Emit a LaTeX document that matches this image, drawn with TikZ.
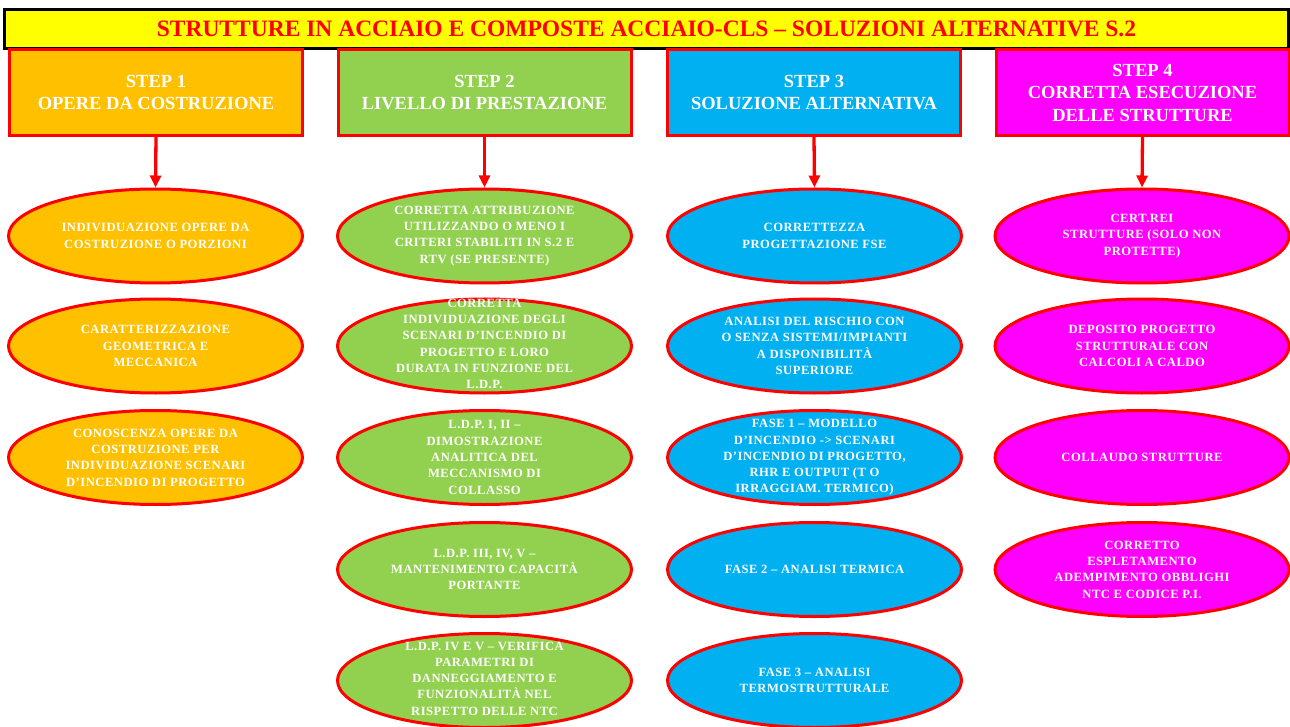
\documentclass[tikz,border=0pt]{standalone}
\usepackage{fontspec}
\setmainfont{Liberation Serif}
\newfontfamily\ellfont[LetterSpace=4]{Liberation Serif}
\usetikzlibrary{shapes.geometric,arrows.meta}
\definecolor{cOrange}{HTML}{FFC000}
\definecolor{cGreen}{HTML}{92D050}
\definecolor{cBlue}{HTML}{00B0F0}
\definecolor{cMag}{HTML}{FF00FF}
\definecolor{cYellow}{HTML}{FFFF00}
\definecolor{cRed}{HTML}{FF0000}
\tikzset{
  titlebox/.style={draw=black,line width=3pt,fill=cYellow,minimum width=1284pt,minimum height=39pt,inner sep=0pt,
    text=cRed,font=\bfseries\fontsize{23.5}{26}\selectfont},
  stepbox/.style={draw=cRed,line width=3pt,minimum width=293pt,minimum height=86pt,inner sep=0pt,
    text=white,align=center,font=\bfseries\fontsize{18.5}{22.5}\selectfont},
  etext/.style={text=white,align=center,inner sep=0pt,font=\ellfont\bfseries\fontsize{12.6}{16.3}\selectfont},
  ell/.style={ellipse,draw=cRed,line width=3pt,minimum width=294pt,minimum height=94pt,inner sep=0pt},
  arr/.style={draw=cRed,line width=3.3pt,-{Triangle[width=11pt,length=12pt]}}
}
\begin{document}
\begin{tikzpicture}[x=1pt,y=-1pt]
\useasboundingbox (0,0) rectangle (1290,727);
\node[titlebox] (title) at (646.5,29) {STRUTTURE IN ACCIAIO E COMPOSTE ACCIAIO-CLS – SOLUZIONI ALTERNATIVE S.2};
\node[stepbox,fill=cOrange] (s1) at (156,92.5) {STEP 1\\OPERE DA COSTRUZIONE};
\node[stepbox,fill=cGreen] (s2) at (484.5,92.5) {STEP 2\\LIVELLO DI PRESTAZIONE};
\node[stepbox,fill=cBlue] (s3) at (814,92.5) {STEP 3\\SOLUZIONE ALTERNATIVA};
\node[stepbox,fill=cMag] (s4) at (1142.5,92.5) {STEP 4\\CORRETTA ESECUZIONE\\DELLE STRUTTURE};
% column 1
\node[ell,fill=cOrange] (a1) at (155.5,236) {};
\node[etext] (ta1) at (a1.center) {INDIVIDUAZIONE OPERE DA\\COSTRUZIONE O PORZIONI};
\node[ell,fill=cOrange] (a2) at (155.5,346) {};
\node[etext] (ta2) at (a2.center) {CARATTERIZZAZIONE\\GEOMETRICA E\\MECCANICA};
\node[ell,fill=cOrange] (a3) at (155.5,457.5) {};
\node[etext] (ta3) at (a3.center) {CONOSCENZA OPERE DA\\COSTRUZIONE PER\\INDIVIDUAZIONE SCENARI\\D’INCENDIO DI PROGETTO};
% column 2
\node[ell,fill=cGreen] (b1) at (484.5,236) {};
\node[etext] (tb1) at (b1.center) {CORRETTA ATTRIBUZIONE\\UTILIZZANDO O MENO I\\CRITERI STABILITI IN S.2 E\\RTV (SE PRESENTE)};
\node[ell,fill=cGreen] (b2) at (484.5,346) {};
\node[etext] (tb2) at ([yshift=2pt]b2.center) {CORRETTA\\INDIVIDUAZIONE DEGLI\\SCENARI D’INCENDIO DI\\PROGETTO E LORO\\DURATA IN FUNZIONE DEL\\L.D.P.};
\node[ell,fill=cGreen] (b3) at (484.5,457.5) {};
\node[etext] (tb3) at (b3.center) {L.D.P. I, II –\\DIMOSTRAZIONE\\ANALITICA DEL\\MECCANISMO DI\\COLLASSO};
\node[ell,fill=cGreen] (b4) at (484.5,569.5) {};
\node[etext] (tb4) at (b4.center) {L.D.P. III, IV, V –\\MANTENIMENTO CAPACITÀ\\PORTANTE};
\node[ell,fill=cGreen] (b5) at (484.5,680.5) {};
\node[etext] (tb5) at ([yshift=2pt]b5.center) {L.D.P. IV E V – VERIFICA\\PARAMETRI DI\\DANNEGGIAMENTO E\\FUNZIONALITÀ NEL\\RISPETTO DELLE NTC};
% column 3
\node[ell,fill=cBlue] (c1) at (814.5,236) {};
\node[etext] (tc1) at (c1.center) {CORRETTEZZA\\PROGETTAZIONE FSE};
\node[ell,fill=cBlue] (c2) at (814.5,346) {};
\node[etext] (tc2) at (c2.center) {ANALISI DEL RISCHIO CON\\O SENZA SISTEMI/IMPIANTI\\A DISPONIBILITÀ\\SUPERIORE};
\node[ell,fill=cBlue] (c3) at (814.5,457.5) {};
\node[etext] (tc3) at (c3.center) {FASE 1 – MODELLO\\D’INCENDIO -{}> SCENARI\\D’INCENDIO DI PROGETTO,\\RHR E OUTPUT (T O\\IRRAGGIAM. TERMICO)};
\node[ell,fill=cBlue] (c4) at (814.5,569.5) {};
\node[etext] (tc4) at (c4.center) {FASE 2 – ANALISI TERMICA};
\node[ell,fill=cBlue] (c5) at (814.5,680.5) {};
\node[etext] (tc5) at (c5.center) {FASE 3 – ANALISI\\TERMOSTRUTTURALE};
% column 4
\node[ell,fill=cMag] (d1) at (1142,236) {};
\node[etext] (td1) at (d1.center) {CERT.REI\\STRUTTURE (SOLO NON\\PROTETTE)};
\node[ell,fill=cMag] (d2) at (1142,346) {};
\node[etext] (td2) at (d2.center) {DEPOSITO PROGETTO\\STRUTTURALE CON\\CALCOLI A CALDO};
\node[ell,fill=cMag] (d3) at (1142,457.5) {};
\node[etext] (td3) at (d3.center) {COLLAUDO STRUTTURE};
\node[ell,fill=cMag] (d4) at (1142,569.5) {};
\node[etext] (td4) at (d4.center) {CORRETTO\\ESPLETAMENTO\\ADEMPIMENTO OBBLIGHI\\NTC E CODICE P.I.};
% arrows
\draw[arr] (s1.south) -- (a1.north);
\draw[arr] (s2.south) -- (b1.north);
\draw[arr] (s3.south) -- (c1.north);
\draw[arr] (s4.south) -- (d1.north);
\end{tikzpicture}
\end{document}
